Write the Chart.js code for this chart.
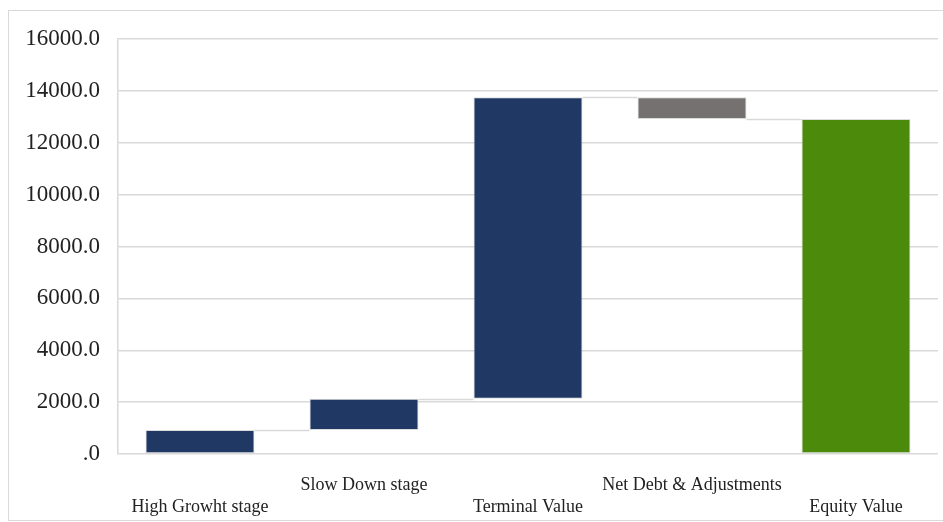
<!DOCTYPE html>
<html>
<head>
<meta charset="utf-8">
<script src="https://cdn.jsdelivr.net/npm/chart.js@4/dist/chart.umd.min.js"></script>
<style>
  html, body { margin: 0; padding: 0; background: #fff; overflow: hidden; }
  canvas { display: block; }
</style>
</head>
<body>
<canvas id="c" width="943" height="522"></canvas>
<script>
// Valuation bridge: each stage adds to (or subtracts from) the running total
const categories = ['High Growht stage', 'Slow Down stage', 'Terminal Value', 'Net Debt & Adjustments', 'Equity Value'];
const barBase = [0, 930, 2130, 12920, 0];
const barTop = [930, 2130, 13750, 13750, 12920];
const yMin = 0;
const yMax = 16000;
const yStep = 2000;

const floating = categories.map((_, i) => [barBase[i], barTop[i]]);

// Light outline around the chart panel (runs off the right edge)
const panelFrame = {
  id: 'panelFrame',
  beforeDraw(chart) {
    const ctx = chart.ctx;
    ctx.save();
    ctx.strokeStyle = '#d9d9d9';
    ctx.lineWidth = 1;
    ctx.strokeRect(8.5, 10.5, chart.width + 20, 510);
    ctx.restore();
  }
};

// Thin connector lines linking the level where one bar ends to the next bar
const connectors = {
  id: 'connectors',
  beforeDatasetsDraw(chart) {
    const meta = chart.getDatasetMeta(0);
    const y = chart.scales.y;
    const ctx = chart.ctx;
    ctx.save();
    ctx.strokeStyle = '#d9d9d9';
    ctx.lineWidth = 1.5;
    for (let i = 0; i < meta.data.length - 1; i++) {
      const a = meta.data[i];
      const b = meta.data[i + 1];
      // level carried forward to the next bar
      const level = (i + 1 === meta.data.length - 1) ? barTop[i + 1] : (barTop[i + 1] >= barTop[i] ? barTop[i] : barBase[i + 1]);
      const py = Math.round(y.getPixelForValue(level)) + 0.5;
      ctx.beginPath();
      ctx.moveTo(a.x + a.width / 2, py);
      ctx.lineTo(b.x - b.width / 2, py);
      ctx.stroke();
    }
    ctx.restore();
  }
};

new Chart(document.getElementById('c'), {
  type: 'bar',
  data: {
    labels: categories,
    datasets: [{
      data: floating,
      backgroundColor: ['#203864', '#203864', '#203864', '#767171', '#4b8a0a'],
      borderColor: 'rgba(210,210,210,0.8)',
      borderWidth: 1,
      borderSkipped: false,
      barPercentage: 0.665,
      categoryPercentage: 1
    }]
  },
  options: {
    responsive: false,
    devicePixelRatio: 1,
    animation: false,
    layout: { padding: { top: 39, right: 5, left: 0, bottom: 0 } },
    plugins: { legend: { display: false }, tooltip: { enabled: false } },
    scales: {
      x: {
        grid: { display: false, drawTicks: false },
        border: { display: false },
        ticks: {
          autoSkip: false,
          maxRotation: 0,
          minRotation: 0,
          padding: 20,
          color: '#222',
          font: { family: '"Liberation Serif", "Times New Roman", serif', size: 18, lineHeight: 1.22 },
          callback: function (v, i) {
            const label = categories[i];
            return i % 2 === 0 ? ['', label] : [label, ''];
          }
        },
        afterFit(scale) { scale.height = 68; }
      },
      y: {
        min: yMin,
        max: yMax,
        grid: { color: '#d9d9d9', lineWidth: 1.5, drawTicks: false },
        border: { display: true, color: '#d9d9d9', width: 1.5 },
        ticks: {
          stepSize: yStep,
          padding: 18,
          color: '#222',
          font: { family: '"Liberation Serif", "Times New Roman", serif', size: 23 },
          callback: v => (v === 0 ? '.0' : v.toFixed(1))
        },
        afterFit(scale) { scale.width = 118; }
      }
    }
  },
  plugins: [panelFrame, connectors]
});
</script>
</body>
</html>
